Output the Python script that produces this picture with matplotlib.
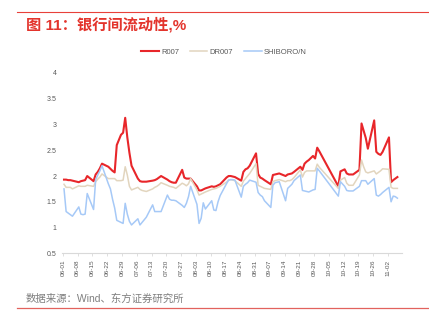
import matplotlib
matplotlib.use('Agg')
import matplotlib.pyplot as plt
import matplotlib.dates as mdates
import pandas as pd

plt.rcParams['font.family'] = ['Liberation Sans', 'Noto Sans CJK SC', 'DejaVu Sans']

# trading days: weekdays, minus the National Day break, plus make-up Saturdays/Sundays
days = pd.bdate_range('2020-06-01', '2020-11-06')
days = days[(days < '2020-10-01') | (days > '2020-10-08')]
days = days.append(pd.DatetimeIndex(['2020-06-28', '2020-09-27', '2020-10-10'])).sort_values()

r007 = [
    1.93, 1.93, 1.92, 1.92, 1.91,
    1.88, 1.90, 1.91, 1.92, 2.00,
    1.90, 2.03, 2.08, 2.15, 2.24,
    2.18, 2.14, 2.10, 2.07, 2.60, 2.80,
    2.84, 3.13, 2.75, 2.45, 2.20,
    1.95, 1.90, 1.89, 1.89, 1.89,
    1.91, 1.92, 1.94, 1.97, 2.00,
    1.93, 1.90, 1.88, 1.87, 1.87,
    2.12, 1.97, 1.95, 1.95, 1.95,
    1.80, 1.72, 1.72, 1.74, 1.76,
    1.80, 1.79, 1.80, 1.82, 1.84,
    1.97, 2.00, 2.00, 1.99, 1.98,
    1.91, 2.08, 2.13, 2.15, 2.20,
    2.44, 2.04, 1.97, 1.95, 1.92,
    1.84, 2.02, 2.03, 2.04, 2.05,
    2.00, 2.03, 2.04, 2.05, 2.08,
    2.18, 2.12, 2.24, 2.28, 2.31, 2.39,
    2.34, 2.55, 2.48,
    1.80, 2.09,
    2.13, 2.05, 2.03, 2.03, 2.03,
    2.12, 3.02, 2.88, 2.74, 2.53,
    3.08, 2.47, 2.43, 2.41, 2.47,
    2.75, 1.88, 1.92, 1.95, 1.98,
]
dr007 = [
    1.84, 1.78, 1.78, 1.78, 1.75,
    1.81, 1.80, 1.80, 1.80, 1.82,
    1.80, 1.89, 1.94, 1.98, 2.04,
    1.95, 1.95, 1.95, 1.95, 1.91, 1.91,
    1.92, 2.18, 2.02, 1.80, 1.73,
    1.78, 1.74, 1.72, 1.71, 1.70,
    1.75, 1.78, 1.80, 1.83, 1.87,
    1.82, 1.80, 1.79, 1.78, 1.76,
    1.86, 1.84, 1.81, 1.85, 1.95,
    1.73, 1.63, 1.65, 1.67, 1.69,
    1.74, 1.75, 1.76, 1.78, 1.80,
    1.88, 1.92, 1.93, 1.92, 1.91,
    1.80, 1.90, 1.95, 2.00, 2.05,
    2.24, 1.82, 1.80, 1.78, 1.76,
    1.74, 1.89, 1.91, 1.92, 1.93,
    1.89, 1.91, 1.91, 1.93, 1.97,
    2.12, 1.98, 2.07, 2.10, 2.10, 2.10,
    2.10, 2.23, 2.17,
    1.76, 1.92,
    1.97, 1.86, 1.82, 1.82, 1.82,
    2.02, 2.31, 2.18, 2.08, 2.06,
    2.10, 2.04, 2.07, 2.10, 2.14,
    2.13, 1.78, 1.76, 1.76, 1.76,
]
shibor_on = [
    1.75, 1.31, 1.28, 1.25, 1.22,
    1.40, 1.26, 1.25, 1.26, 1.66,
    1.35, 1.93, 2.02, 2.10, 2.20,
    1.85, 1.75, 1.55, 1.38, 1.14, 1.10,
    1.08, 1.47, 1.26, 1.12, 1.05,
    1.17, 1.05, 1.10, 1.15, 1.20,
    1.44, 1.31, 1.31, 1.31, 1.31,
    1.63, 1.55, 1.53, 1.53, 1.52,
    1.43, 1.39, 1.47, 1.60, 1.80,
    1.45, 1.08, 1.18, 1.48, 1.36,
    1.52, 1.34, 1.33, 1.50, 1.62,
    1.85, 1.92, 1.93, 1.93, 1.92,
    1.59, 1.80, 1.84, 1.87, 1.92,
    1.88, 1.68, 1.63, 1.60, 1.52,
    1.39, 1.82, 1.87, 1.88, 1.89,
    1.52, 1.76, 1.80, 1.84, 1.91,
    2.02, 1.72, 1.71, 1.70, 1.69, 1.73,
    1.74, 2.15, 2.10,
    1.61, 1.89,
    1.80, 1.72, 1.71, 1.71, 1.71,
    1.80, 1.91, 1.91, 1.91, 1.84,
    1.95, 1.63, 1.61, 1.64, 1.68,
    1.78, 1.50, 1.61, 1.60, 1.57,
]
series_names = ['R007', 'DR007', 'SHIBORO/N']
tick_dates = pd.date_range('2020-06-01', '2020-11-02', freq='7D')

colors = ['#E8262A', '#E2D5BE', '#A6C9F7']
widths = [1.5, 1.1, 1.1]

fig = plt.figure(figsize=(4.29, 3.27), dpi=100)
ax = fig.add_axes([0.1445, 0.2254, 0.7925, 0.5514])

x = days + pd.Timedelta(hours=12)
lines = []
for vals, c, lw, name in zip([r007, dr007, shibor_on], colors, widths, series_names):
    ln, = ax.plot(x, vals, color=c, lw=lw, label=name, solid_joinstyle='round')
    lines.append(ln)

ax.set_ylim(0.5, 4)
ax.set_yticks([0.5, 1, 1.5, 2, 2.5, 3, 3.5, 4])
ax.set_yticklabels(['0.5', '1', '1.5', '2', '2.5', '3', '3.5', '4'])
ax.set_xlim(pd.Timestamp('2020-06-01') - pd.Timedelta(hours=11),
            pd.Timestamp('2020-11-08') + pd.Timedelta(hours=16))
ax.set_xticks(tick_dates)
ax.xaxis.set_major_formatter(mdates.DateFormatter('%m-%d'))
for lbl in ax.get_xticklabels():
    lbl.set_rotation(90)

for s in ['top', 'right', 'left']:
    ax.spines[s].set_visible(False)
ax.spines['bottom'].set_color('#D9D9D9')
ax.spines['bottom'].set_linewidth(0.8)
ax.tick_params(axis='y', length=0, labelsize=5, labelcolor='#595959', pad=4)
ax.tick_params(axis='x', length=2.5, width=0.6, color='#D9D9D9',
               labelsize=4.6, labelcolor='#595959', pad=2)

fig.legend(handles=lines, loc='center', bbox_to_anchor=(224 / 429, 1 - 52 / 327),
           ncol=3, frameon=False, fontsize=5.5, handlelength=2.3,
           handletextpad=0.3, columnspacing=1.4, labelcolor='#595959')

# header / footer rules and captions
fig.add_artist(plt.Line2D([17 / 429, 1], [1 - 12 / 327] * 2, color='#E8413A', lw=0.8))
fig.add_artist(plt.Line2D([17 / 429, 1], [1 - 308 / 327] * 2, color='#E2625D', lw=0.9))
fig.text(26 / 429, 1 - 25 / 327, '图 11：银行间流动性,%', color='#E3342C',
         fontsize=11, fontweight='bold', va='center', ha='left')
fig.text(26 / 429, 1 - 299 / 327, '数据来源：Wind、东方证券研究所', color='#7F7F7F',
         fontsize=7.5, va='center', ha='left')

fig.savefig('out.png', dpi=100)
